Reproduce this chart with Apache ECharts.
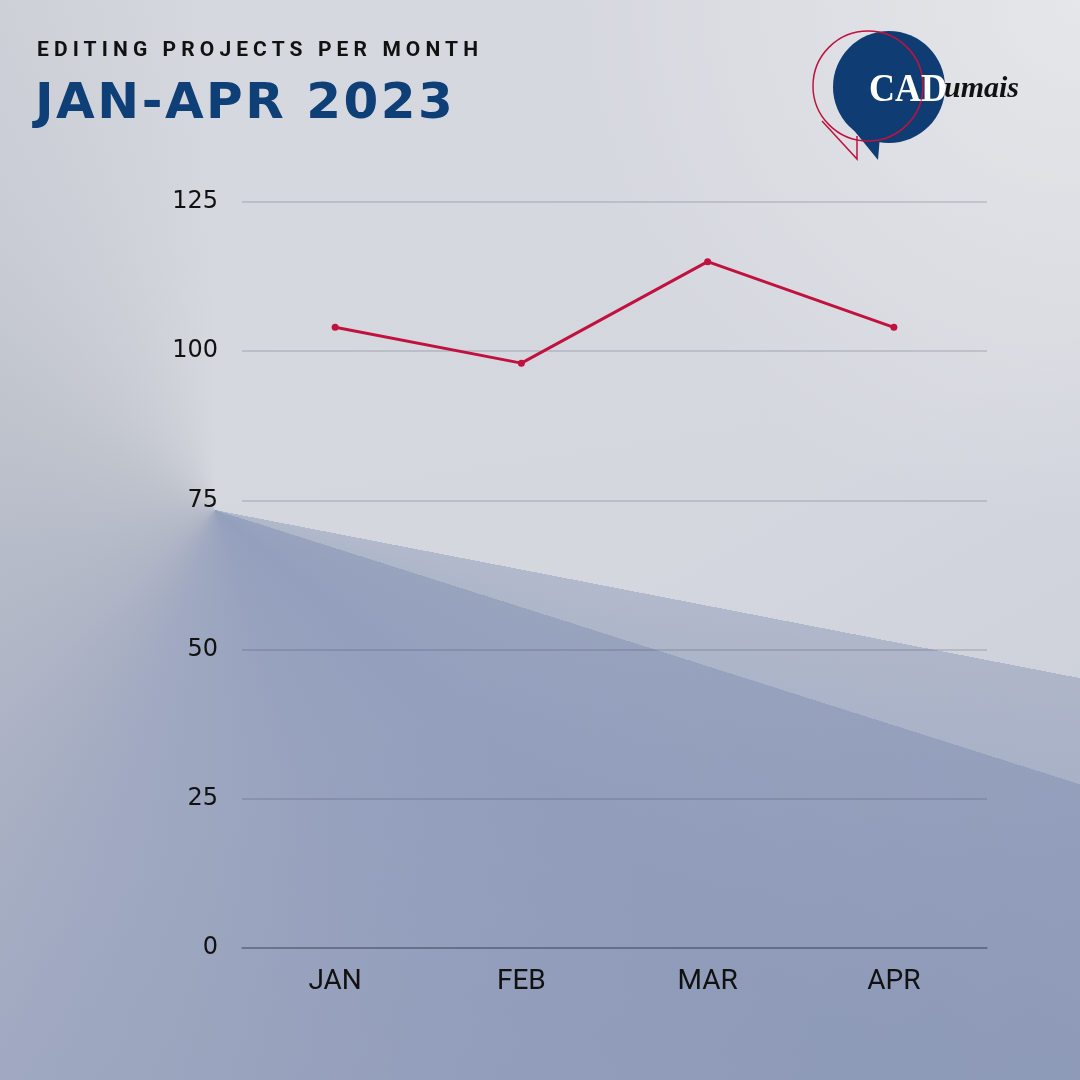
<!DOCTYPE html>
<html>
<head>
<meta charset="utf-8">
<script src="https://cdn.jsdelivr.net/npm/echarts@6/dist/echarts.min.js"></script>
<style>
  html, body { margin: 0; padding: 0; }
  #wrap {
    position: relative;
    width: 1080px;
    height: 1080px;
    overflow: hidden;
    background:
      radial-gradient(circle at 1080px 0px, rgba(232,233,236,0.85), rgba(232,233,236,0) 520px),
      linear-gradient(150deg, rgba(60,80,130,0) 55%, rgba(60,80,130,0.08) 100%),
      conic-gradient(from 0deg at 215px 510px,
        #d5d8de 0deg, #d4d7de 101deg,
        #b2b9cc 101deg, #aeb6ca 107.6deg,
        #98a3be 107.6deg, #939fbc 130deg, #97a2be 160deg,
        #a1aac1 200deg, #b0b5c6 230deg, #c0c4cd 297deg,
        #cdd0d7 337deg, #d5d8de 360deg);
  }
  #chart { position: absolute; left: 0; top: 0; width: 1080px; height: 1080px; }
  .sub {
    position: absolute; left: 37px; top: 37px;
    font-family: Roboto, "DejaVu Sans", sans-serif;
    font-weight: 700; font-size: 21px; letter-spacing: 5.1px;
    color: #111;
    line-height: normal;
  }
  .main {
    position: absolute; left: 35px; top: 72px;
    font-family: "DejaVu Sans", Roboto, sans-serif;
    font-weight: 700; font-size: 50px; letter-spacing: 2.5px;
    color: #0f3f77;
    line-height: normal;
  }
</style>
</head>
<body>
<div id="wrap">
  <div id="chart"></div>
  <div class="sub">EDITING PROJECTS PER MONTH</div>
  <div class="main">JAN-APR 2023</div>
</div>
<script>
// dados do grafico
var months = ["JAN", "FEB", "MAR", "APR"]
var projects = [104, 98, 115, 104]
var yTicks = [0, 25, 50, 75, 100, 125]

var navy = "#0f3d73"
var red = "#c1123f"

var chart = echarts.init(document.getElementById("chart"), null, { renderer: "canvas" })

var option = {
  backgroundColor: "transparent",
  animation: false,
  grid: { left: 242, right: 93, top: 202, bottom: 132, containLabel: false },
  xAxis: {
    type: "category",
    data: months,
    boundaryGap: true,
    axisLine: { show: true, lineStyle: { color: "rgba(30,40,65,0.38)", width: 1.5 } },
    axisTick: { show: false },
    axisLabel: {
      margin: 20,
      color: "#111",
      fontFamily: "Roboto",
      fontSize: 28
    }
  },
  yAxis: {
    type: "value",
    min: yTicks[0],
    max: yTicks[yTicks.length - 1],
    interval: 25,
    axisLine: { show: false },
    axisTick: { show: false },
    splitLine: { lineStyle: { color: "rgba(40,50,75,0.2)", width: 1.5 } },
    axisLabel: {
      margin: 24,
      color: "#111",
      fontFamily: "DejaVu Sans",
      fontSize: 24
    }
  },
  series: [
    {
      type: "line",
      data: projects,
      symbol: "circle",
      symbolSize: 7,
      lineStyle: { color: red, width: 3 },
      itemStyle: { color: red }
    }
  ],
  // logo
  graphic: [
    { type: "circle", shape: { cx: 889, cy: 87, r: 56 }, style: { fill: navy } },
    { type: "polygon", shape: { points: [[852, 128], [880, 136], [878, 160]] }, style: { fill: navy } },
    { type: "circle", shape: { cx: 868, cy: 86, r: 55 }, style: { fill: "none", stroke: red, lineWidth: 1.5 } },
    { type: "polyline", shape: { points: [[822, 121], [857, 159], [857, 136]] }, style: { fill: "none", stroke: red, lineWidth: 1.5 } },
    {
      type: "text", left: 869, top: 70, scaleY: 1.12,
      style: { text: "CAD", fill: "#fff", font: "bold 36px 'Liberation Serif', 'DejaVu Serif', serif" }
    },
    {
      type: "text", left: 944, top: 74,
      style: { text: "umais", fill: "#111", font: "italic bold 30px 'Liberation Serif', serif" }
    }
  ]
}

chart.setOption(option)
</script>
</body>
</html>
